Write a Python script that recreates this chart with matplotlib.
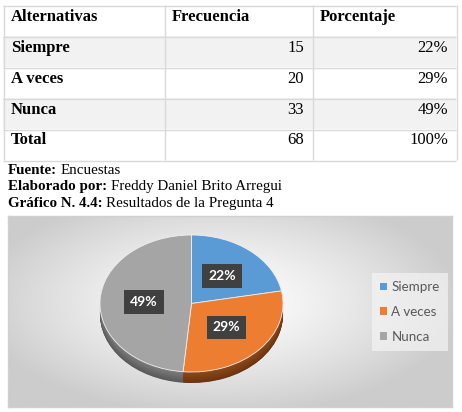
import numpy as np
import matplotlib
matplotlib.use("Agg")
import matplotlib.pyplot as plt
from matplotlib.patches import Rectangle

headers = ["Alternativas", "Frecuencia", "Porcentaje"]
categories = ["Siempre", "A veces", "Nunca"]
frecuencia = [15, 20, 33]
porcentaje = [22, 29, 49]
total_label = "Total"

captions = [
    ("Fuente:", "Encuestas"),
    ("Elaborado por:", "Freddy Daniel Brito Arregui"),
    ("Gráfico N. 4.4:", "Resultados de la Pregunta 4"),
]

pie_colors = ["#5B9BD5", "#ED7D31", "#A5A5A5"]
side_top = ["#2E5F8E", "#8E4A1A", "#7E7E7E"]
side_bottom = ["#1F4467", "#6B3410", "#595959"]

W, H = 462, 412
fig = plt.figure(figsize=(W / 100, H / 100), dpi=100)
fig.patch.set_facecolor("white")


def px_axes(left, top, right, bottom, **kw):
    return fig.add_axes([left / W, 1 - bottom / H, (right - left) / W, (bottom - top) / H], **kw)


# ---- page axes in pixel coordinates: table + captions
page = fig.add_axes([0, 0, 1, 1])
page.set_xlim(0, W)
page.set_ylim(H, 0)
page.axis("off")

serif = "Liberation Serif"
col_edges = [3, 164, 312, 456]
row_top, row_h = 5, 31
rows = [headers] + [[c, str(f), f"{p}%"] for c, f, p in zip(categories, frecuencia, porcentaje)]
rows.append([total_label, str(sum(frecuencia)), f"{sum(porcentaje)}%"])
n_rows = len(rows)

for i, row in enumerate(rows):
    y0 = row_top + i * row_h
    if i in (1, 3):
        page.add_patch(Rectangle((col_edges[0], y0), col_edges[-1] - col_edges[0], row_h,
                                 facecolor="#F2F2F2", edgecolor="none", zorder=0))
    ty = y0 + 11.5
    for j, cell in enumerate(row):
        if j == 0 or i == 0:
            page.text(col_edges[j] + 8, ty, cell, family=serif, fontsize=12,
                      fontweight="bold", ha="left", va="center", color="black")
        else:
            page.text(col_edges[j + 1] - 8, ty, cell, family=serif, fontsize=12,
                      ha="right", va="center", color="black")

grid_c = "#D9D9D9"
page.hlines([row_top + i * row_h + 0.5 for i in range(n_rows + 1)], col_edges[0], col_edges[-1],
            color=grid_c, lw=1)
page.vlines([c + 0.5 for c in col_edges], row_top, row_top + n_rows * row_h, color=grid_c, lw=1)

for k, (lab, rest) in enumerate(captions):
    t = page.text(8, 170 + k * 16.7, lab, family=serif, fontsize=10.8, fontweight="bold",
                  ha="left", va="center")
    page.annotate(rest, xy=(1, 0.5), xycoords=t, xytext=(2.6, 0), textcoords="offset points",
                  ha="left", va="center", family=serif, fontsize=10.8)

# ---- chart area with radial gradient
bx0, by0, bx1, by1 = 8, 216, 452, 407
bg = px_axes(bx0, by0, bx1, by1)
gx, gy = np.meshgrid(np.linspace(-1, 1, 300), np.linspace(-1, 1, 150))
r = np.clip(np.sqrt(((gx + 0.05) / 1.1) ** 2 + ((gy + 0.1) / 1.2) ** 2), 0, 1)
shade = 1 - 0.2 * r ** 1.3
bg.imshow(np.dstack([shade] * 3), aspect="auto", extent=(0, 1, 0, 1), interpolation="bilinear")
bg.set_xticks([])
bg.set_yticks([])
for s in bg.spines.values():
    s.set_color("#D0D0D0")
    s.set_linewidth(1)

# ---- 3D-looking pie
cx, cy, rx, ry = 191.5, 303.5, 91.5, 68.5
xl, yl_top, yl_bot = 1.2, 1.2, 1.4
pax = px_axes(cx - xl * rx, cy - yl_top * ry, cx + xl * rx, cy + yl_bot * ry)
pax.patch.set_visible(False)

depth = 11 / ry
n_layers = 24
for k in range(n_layers, 0, -1):
    f = k / n_layers
    cols = [tuple((1 - f) * np.array(matplotlib.colors.to_rgb(a)) + f * np.array(matplotlib.colors.to_rgb(b)))
            for a, b in zip(side_top, side_bottom)]
    pax.pie(frecuencia, colors=cols, startangle=90, counterclock=False,
            center=(0, -depth * f), wedgeprops=dict(linewidth=0))

wedges, _, autotexts = pax.pie(
    frecuencia, colors=pie_colors, startangle=90, counterclock=False,
    autopct="%.0f%%", pctdistance=0.52, wedgeprops=dict(linewidth=0.6, edgecolor="#F0F0F0"))
for t in autotexts:
    t.set_color("white")
    t.set_fontfamily("Lato")
    t.set_fontweight("bold")
    t.set_fontsize(10)
    t.set_bbox(dict(boxstyle="square,pad=0.42", facecolor="#404040", edgecolor="none"))

pax.set_aspect("auto")
pax.set_xlim(-xl, xl)
pax.set_ylim(-yl_bot, yl_top)
pax.axis("off")

leg = fig.legend(wedges, categories, loc="center left",
                 bbox_to_anchor=(372 / W, 1 - 312 / H), borderaxespad=0,
                 frameon=True, facecolor="#F4F4F4", edgecolor="none", framealpha=0.7,
                 fancybox=False, prop=dict(family="Lato", size=9.6),
                 handlelength=0.5, handleheight=0.5, handletextpad=0.35,
                 labelspacing=0.95, borderpad=0.6, labelcolor="#595959")
for h in leg.legend_handles:
    h.set_linewidth(0)

fig.savefig("out.png", dpi=100)
